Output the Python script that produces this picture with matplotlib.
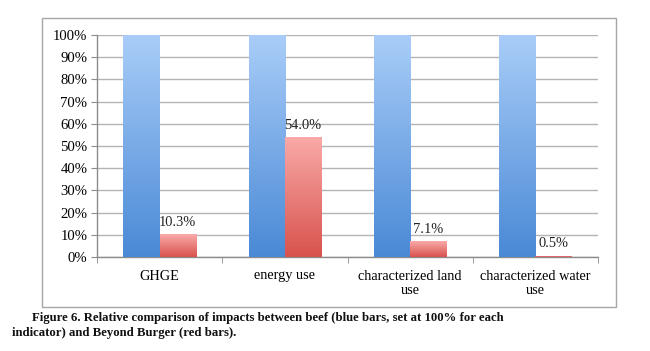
import numpy as np
import matplotlib
matplotlib.use("Agg")
import matplotlib.pyplot as plt
from matplotlib.patches import Rectangle
from matplotlib.colors import LinearSegmentedColormap

categories = ["GHGE", "energy use", "characterized land\nuse", "characterized water\nuse"]
beef = [100, 100, 100, 100]
beyond = [10.3, 54.0, 7.1, 0.5]
beyond_labels = ["10.3%", "54.0%", "7.1%", "0.5%"]
yticks = [0, 10, 20, 30, 40, 50, 60, 70, 80, 90, 100]
caption1 = "Figure 6. Relative comparison of impacts between beef (blue bars, set at 100% for each"
caption2 = "indicator) and Beyond Burger (red bars)."

plt.rcParams['font.family'] = ['Liberation Serif', 'DejaVu Serif']

W, H = 650, 351
fig = plt.figure(figsize=(W / 100, H / 100), dpi=100)

# outer chart frame
fig.patches.append(Rectangle((42 / W, 1 - 307 / H), (616 - 42) / W, (307 - 18) / H,
                             transform=fig.transFigure, fill=False,
                             edgecolor="#a6a6a6", linewidth=1.0))

ax = fig.add_axes([97 / W, 1 - 257 / H, (598 - 97) / W, (257 - 35) / H])
x = np.arange(len(categories))
bw = 0.29

blue_cmap = LinearSegmentedColormap.from_list("b", ["#4a89d6", "#a9cdf8"])
red_cmap = LinearSegmentedColormap.from_list("r", ["#d8524d", "#f9aaa8"])

b1 = ax.bar(x - bw / 2, beef, width=bw, color="none", edgecolor="none", zorder=3)
b2 = ax.bar(x + bw / 2, beyond, width=bw, color="none", edgecolor="none", zorder=3)

grad = np.linspace(0, 1, 256).reshape(-1, 1)
for bars, cmap in ((b1, blue_cmap), (b2, red_cmap)):
    for p in bars:
        x0, y0 = p.get_x(), p.get_y()
        w, h = p.get_width(), p.get_height()
        im = ax.imshow(grad, cmap=cmap, origin="lower", aspect="auto",
                       extent=[x0, x0 + w, y0, y0 + h], zorder=3,
                       interpolation="bilinear")
        im.set_clip_path(p)

for p, lab in zip(b2, beyond_labels):
    ax.annotate(lab, (p.get_x() + p.get_width() / 2, p.get_height()),
                xytext=(0, 4), textcoords="offset points",
                ha="center", va="bottom", fontsize=10.4, color="#222222")

ax.set_xlim(-0.5, len(categories) - 0.5)
ax.set_ylim(0, 100)
ax.set_yticks(yticks)
ax.set_yticklabels([f"{t}%" for t in yticks], fontsize=10.6)
ax.set_xticks(x)
ax.set_xticklabels(categories, fontsize=10.3, linespacing=1.2)
ax.tick_params(axis="x", length=0, pad=9)
ax.set_xticks(np.arange(-0.5, len(categories), 1.0), minor=True)
ax.tick_params(axis="x", which="minor", length=4, color="#8c8c8c", direction="out")
ax.tick_params(axis="y", length=4, color="#8c8c8c", pad=3, direction="out")
ax.yaxis.grid(True, color="#b3b3b3", linewidth=1.0, zorder=0)
ax.set_axisbelow(True)
for s in ("top", "right"):
    ax.spines[s].set_visible(False)
for s in ("left", "bottom"):
    ax.spines[s].set_color("#8c8c8c")
    ax.spines[s].set_linewidth(1.0)

fig.text(32 / W, 1 - 318 / H, caption1, fontsize=9.2, fontweight="bold",
         va="center", ha="left", color="#111111")
fig.text(12 / W, 1 - 333 / H, caption2, fontsize=9.2, fontweight="bold",
         va="center", ha="left", color="#111111")

fig.savefig("out.png", dpi=100)
